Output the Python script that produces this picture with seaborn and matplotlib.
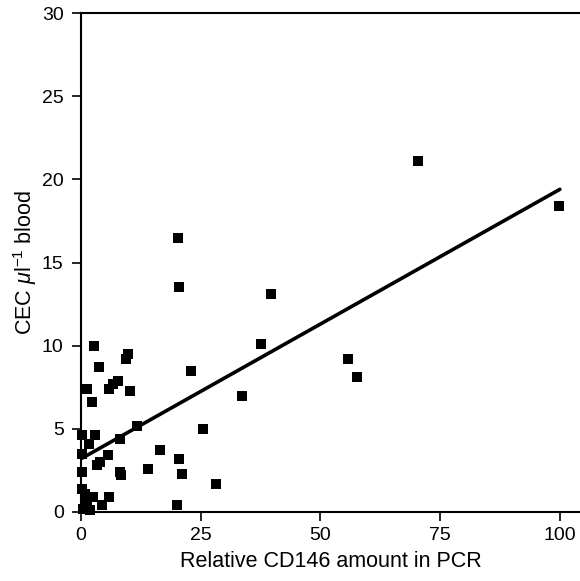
import matplotlib
matplotlib.use("Agg")
import matplotlib.pyplot as plt
import seaborn as sns
import pandas as pd

# Data
cd146 = [0.3, 2.9, 1.7, 8.1, 0.3, 5.6, 3.9, 3.4, 8.2, 8.3, 13.9, 0.3, 0.3, 0.8,
         2.6, 5.8, 1.2, 4.4, 1.9, 0.4, 2.7, 9.9, 9.4, 3.8, 1.3, 5.9, 6.7, 7.8,
         10.2, 2.4, 11.6, 20.3, 20.5, 39.6, 37.5, 22.9, 33.7, 55.7, 57.7, 25.5,
         16.6, 20.4, 21.0, 28.2, 20.1, 70.3, 99.8]
cec = [4.6, 4.6, 4.1, 4.4, 3.5, 3.4, 3.0, 2.8, 2.4, 2.2, 2.6, 2.4, 1.4, 1.1,
       0.9, 0.9, 0.5, 0.4, 0.1, 0.2, 10.0, 9.5, 9.2, 8.7, 7.4, 7.4, 7.7, 7.9,
       7.3, 6.6, 5.2, 16.5, 13.5, 13.1, 10.1, 8.5, 7.0, 9.2, 8.1, 5.0,
       3.7, 3.2, 2.3, 1.7, 0.4, 21.1, 18.4]
# Regression line as drawn in the reference (end points)
fit_x = [0, 100]
fit_y = [3.2, 19.4]
x_ticks = [0, 25, 50, 75, 100]
y_ticks = [0, 5, 10, 15, 20, 25, 30]

df = pd.DataFrame({"cd146": cd146, "cec": cec})
fit_df = pd.DataFrame({"x": fit_x, "y": fit_y})

sns.set_style("ticks")
plt.rcParams["font.family"] = ["Liberation Sans", "DejaVu Sans"]
plt.rcParams["mathtext.fontset"] = "custom"
plt.rcParams["mathtext.rm"] = "Liberation Sans"
plt.rcParams["mathtext.it"] = "Liberation Sans:italic"
plt.rcParams["text.color"] = "black"
plt.rcParams["axes.labelcolor"] = "black"
plt.rcParams["xtick.color"] = "black"
plt.rcParams["ytick.color"] = "black"

fig = plt.figure(figsize=(5.80, 5.81), dpi=100)
ax = fig.add_axes([81 / 580, 69 / 581, (580 - 81) / 580, 499 / 581])

sns.lineplot(data=fit_df, x="x", y="y", ax=ax, color="black", linewidth=2.6,
             zorder=2)
sns.scatterplot(data=df, x="cd146", y="cec", ax=ax, marker="s", s=42,
                color="black", linewidth=0, clip_on=False, zorder=3)

ax.set_xlim(0, 104.2)
ax.set_ylim(0, 30)
ax.set_xticks(x_ticks)
ax.set_yticks(y_ticks)
ax.tick_params(axis="both", direction="out", length=6.5, width=1.2,
               labelsize=14, colors="black")
ax.tick_params(axis="x", pad=4.5)
ax.tick_params(axis="y", pad=6)
for side in ["left", "bottom", "top"]:
    ax.spines[side].set_linewidth(1.5)
    ax.spines[side].set_color("black")
ax.spines["right"].set_visible(False)
ax.set_xlabel("Relative CD146 amount in PCR", fontsize=15.5, labelpad=5)
ax.set_ylabel(r"CEC $\mu$l$^{-1}$ blood", fontsize=15.5, labelpad=2)

fig.savefig("out.png", dpi=100)
